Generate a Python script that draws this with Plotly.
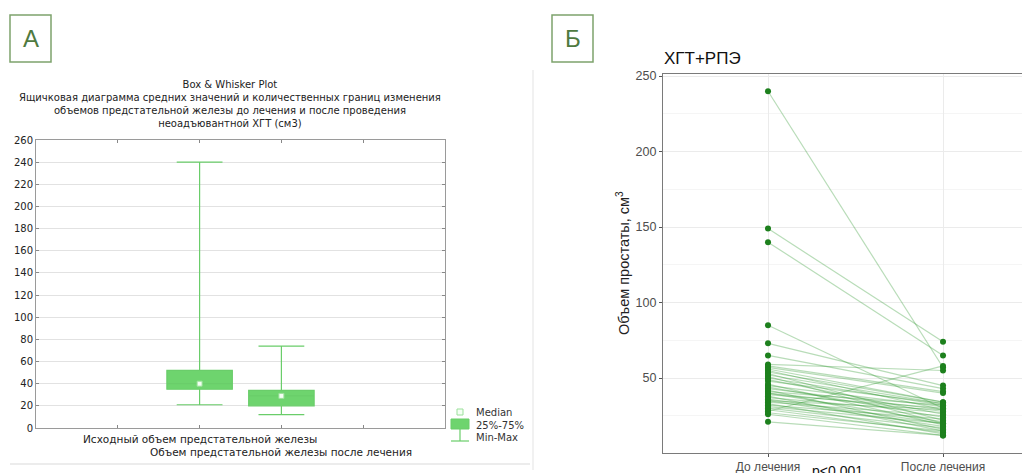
import plotly.graph_objects as go

# The page body adds an 8 px margin; lay the figure out in reference pixels shifted by it.
OFF = 8
W, H = 1030 - OFF, 473 - OFF
def px(x): return (x - OFF) / W
def py(y): return 1 - (y - OFF) / H

# ---------- Panel A data (box & whisker summary) ----------
box_pos = [2, 3]
box_q1 = [35, 20]
box_median = [40, 29]
box_q3 = [52, 34]
box_min = [21, 12]
box_max = [240, 74]
a_xticks = [1, 2, 3, 4]
a_xlabels = ["Исходный объем предстательной железы",
             "Объем предстательной железы после лечения"]
a_yticks = list(range(0, 261, 20))

# ---------- Panel B data (paired volumes) ----------
b_categories = ["До лечения", "После лечения"]
before = [240, 149, 140, 85, 73, 65, 59, 58, 57, 56, 55, 54, 53, 52, 51, 50, 49, 48,
          46, 45, 44, 43, 42, 41, 40, 40, 39, 38, 37, 36, 35, 35, 34, 33, 32, 31,
          30, 29, 28, 27, 26, 21]
after = [57, 74, 65, 30, 45, 43, 55, 41, 40, 34, 29, 34, 22, 33, 20, 32, 26, 33,
         19, 31, 24, 29, 16, 32, 28, 21, 30, 15, 27, 20, 18, 29, 25, 13, 23, 20,
         17, 14, 58, 15, 12, 12]
b_yticks = [50, 100, 150, 200, 250]
b_yminor = [25, 75, 125, 175, 225]

fig = go.Figure()

# Panel A boxes
for i in range(len(box_pos)):
    fig.add_trace(go.Box(
        x=[box_pos[i]], q1=[box_q1[i]], median=[box_median[i]], q3=[box_q3[i]],
        lowerfence=[box_min[i]], upperfence=[box_max[i]],
        width=0.8, whiskerwidth=0.7,
        fillcolor="#6ed46e", line=dict(color="#6acd6a", width=1.2),
        xaxis="x", yaxis="y", showlegend=False, hoverinfo="skip"))
fig.add_trace(go.Scatter(
    x=box_pos, y=box_median, mode="markers",
    marker=dict(symbol="square", size=5, color="#f4fff4",
                line=dict(color="#9be09b", width=1)),
    xaxis="x", yaxis="y", showlegend=False, hoverinfo="skip"))

# Panel B paired lines
for b, a in zip(before, after):
    fig.add_trace(go.Scatter(
        x=[1, 2], y=[b, a], mode="lines",
        line=dict(color="rgba(40,150,40,0.33)", width=1.2),
        xaxis="x2", yaxis="y2", showlegend=False, hoverinfo="skip"))
fig.add_trace(go.Scatter(
    x=[1] * len(before) + [2] * len(after), y=before + after, mode="markers",
    marker=dict(size=6, color="#1d801d"),
    xaxis="x2", yaxis="y2", showlegend=False, hoverinfo="skip"))

fontA = "DejaVu Sans"
fontB = "Liberation Sans, Arial"

fig.update_layout(
    width=W, height=H, margin=dict(l=0, r=0, t=0, b=0, autoexpand=False),
    paper_bgcolor="white", plot_bgcolor="white",
    xaxis=dict(domain=[px(36), px(445)], range=[0, 5], tickvals=a_xticks,
               showticklabels=False, ticks="inside", ticklen=3, tickcolor="#888",
               mirror="ticks", showline=True, linecolor="#9a9a9a", showgrid=False,
               zeroline=False, automargin=False),
    yaxis=dict(domain=[py(428), py(140)], range=[0, 260], tickvals=a_yticks,
               ticks="inside", ticklen=3, tickcolor="#888", mirror="ticks",
               showline=True, linecolor="#9a9a9a", gridcolor="#e2e2e2",
               zeroline=False, automargin=False,
               tickfont=dict(family=fontA, size=10, color="#222")),
    xaxis2=dict(domain=[px(663), 1.0], range=[0.4, 2.497], tickvals=[1, 2],
                ticktext=b_categories, tickangle=0, ticks="outside", ticklen=3,
                tickcolor="#555", showline=True, linecolor="#7a7a7a", linewidth=1.3,
                mirror=True, showgrid=True, gridcolor="#ebebeb", zeroline=False,
                automargin=False,
                tickfont=dict(family=fontB, size=12, color="#4d4d4d"), anchor="y2"),
    yaxis2=dict(domain=[py(452.6), py(74)], range=[0.6, 251.4], tickvals=b_yticks,
                ticks="outside", ticklen=3, tickcolor="#555", showline=True,
                linecolor="#7a7a7a", linewidth=1.3, gridcolor="#ebebeb",
                minor=dict(tickvals=b_yminor, showgrid=True, gridcolor="#f5f5f5"),
                zeroline=False, automargin=False,
                tickfont=dict(family=fontB, size=12.5, color="#4d4d4d"),
                anchor="x2"),
)

shapes = []
annots = []
# panel letter boxes
for x0, letter in [(10, "A"), (552, "Б")]:
    shapes.append(dict(type="rect", xref="paper", yref="paper",
                       x0=px(x0), x1=px(x0 + 41), y0=py(62), y1=py(15),
                       line=dict(color="#7da36c", width=1.5), fillcolor="white"))
    annots.append(dict(x=px(x0 + 20.5), y=py(39), xref="paper", yref="paper",
                       text=letter, showarrow=False, xanchor="center", yanchor="middle",
                       font=dict(family=fontB, size=24, color="#4f7a40")))
# faint panel borders of A
shapes.append(dict(type="line", xref="paper", yref="paper", x0=px(10), x1=px(530),
                   y0=py(464), y1=py(464), line=dict(color="#ececec", width=2)))
shapes.append(dict(type="line", xref="paper", yref="paper", x0=px(533), x1=px(533),
                   y0=py(70), y1=py(470), line=dict(color="#ececec", width=1.5)))

# Panel A title
annots.append(dict(x=px(230), y=py(77), xref="paper", yref="paper", showarrow=False,
                   xanchor="center", yanchor="top", align="center",
                   text="Box & Whisker Plot<br>Ящичковая диаграмма средних значений и количественных границ изменения"
                        "<br>объемов предстательной железы до лечения и после проведения"
                        "<br>неоадъювантной ХГТ (см3)",
                   font=dict(family=fontA, size=10, color="#222")))

# Panel A x labels (staggered)
for pos, lab, yy in zip(box_pos, a_xlabels, [439, 452]):
    annots.append(dict(x=pos, y=py(yy), xref="x", yref="paper", text=lab,
                       showarrow=False, xanchor="center", yanchor="middle",
                       font=dict(family=fontA, size=10.5, color="#222")))

# Panel A legend
shapes.append(dict(type="rect", xref="paper", yref="paper", x0=px(457), x1=px(463),
                   y0=py(415), y1=py(409), line=dict(color="#9be09b", width=1),
                   fillcolor="#f4fff4"))
shapes.append(dict(type="rect", xref="paper", yref="paper", x0=px(451), x1=px(469),
                   y0=py(429), y1=py(419), line=dict(color="#6acd6a", width=1),
                   fillcolor="#6ed46e"))
shapes.append(dict(type="line", xref="paper", yref="paper", x0=px(460), x1=px(460),
                   y0=py(441), y1=py(429), line=dict(color="#6acd6a", width=1.2)))
shapes.append(dict(type="line", xref="paper", yref="paper", x0=px(451), x1=px(469),
                   y0=py(441), y1=py(441), line=dict(color="#6acd6a", width=1.2)))
for yy, t in [(412, "Median"), (425, "25%-75%"), (437, "Min-Max")]:
    annots.append(dict(x=px(474), y=py(yy), xref="paper", yref="paper", text=t,
                       showarrow=False, xanchor="left", yanchor="middle",
                       font=dict(family=fontA, size=10, color="#333")))

# Panel B title, y title, p value
annots.append(dict(x=px(662), y=py(59), xref="paper", yref="paper", text="ХГТ+РПЭ",
                   showarrow=False, xanchor="left", yanchor="middle",
                   font=dict(family=fontB, size=17, color="#111")))
annots.append(dict(x=px(623), y=py(263), xref="paper", yref="paper",
                   text="Объем простаты, см<sup>3</sup>", textangle=-90,
                   showarrow=False, xanchor="center", yanchor="middle",
                   font=dict(family=fontB, size=14.5, color="#222")))
annots.append(dict(x=px(837), y=py(461), xref="paper", yref="paper", text="p<0.001",
                   showarrow=False, xanchor="center", yanchor="top",
                   font=dict(family=fontB, size=14, color="#111")))

fig.update_layout(shapes=shapes, annotations=annots)
fig.write_html("out.html")
